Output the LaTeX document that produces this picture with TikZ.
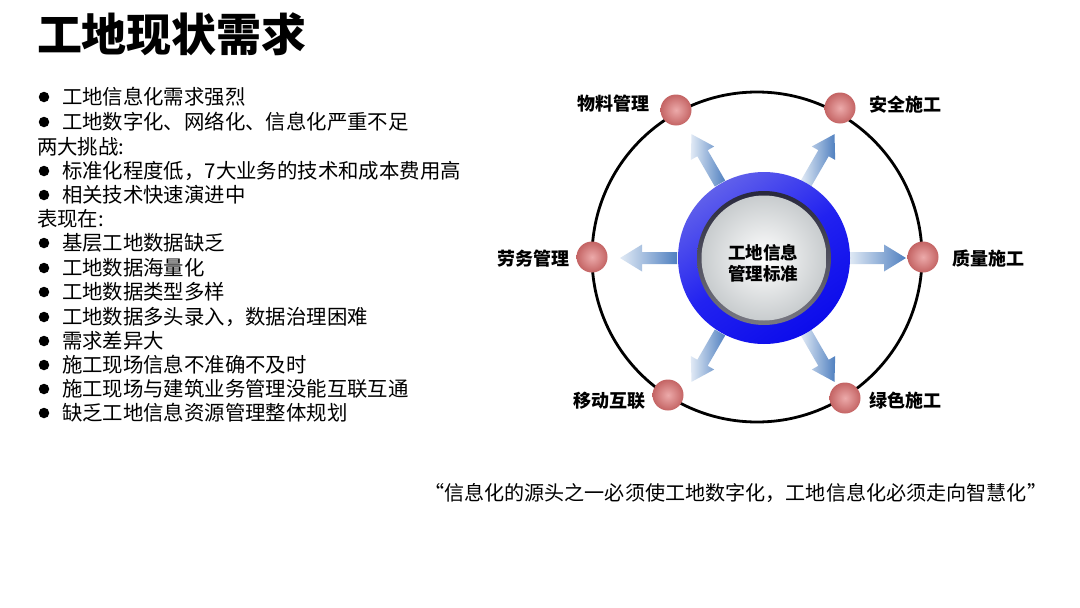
\documentclass[tikz,border=0pt]{standalone}
\usepackage{fontspec}
\newfontfamily\cjk{Noto Sans CJK SC}
\tikzset{
  every node/.style={inner sep=0pt, outer sep=0pt, font=\cjk},
  listtxt/.style={anchor=west, font=\cjk\fontsize{20.4}{23}\selectfont},
  bul/.style={circle, fill=black, minimum size=10.5pt},
  lbl/.style={font=\cjk\bfseries\fontsize{18}{20}\selectfont},
  ball/.style={circle, minimum size=31pt, inner color={rgb,255:red,236;green,170;blue,170}, outer color={rgb,255:red,196;green,100;blue,100}},
  arrowshape/.style={left color={rgb,255:red,225;green,234;blue,245}, right color={rgb,255:red,80;green,128;blue,192}},
}
\begin{document}
\begin{tikzpicture}[x=1pt,y=-1pt]
\useasboundingbox (0,0) rectangle (1080,608);
\fill[white] (0,0) rectangle (1080,608);

% title
\node[anchor=west, font=\cjk\bfseries\fontsize{45}{48}\selectfont] (title) at (37,34) {工地现状需求};

% list
\foreach \y [count=\i] in {97,122,171,195,243,268,292,317,341,365,389,413}
  \node[bul] (b\i) at (44,\y) {};
\node[listtxt] (t1) at (62,97) {工地信息化需求强烈};
\node[listtxt] (t2) at (62,122) {工地数字化、网络化、信息化严重不足};
\node[listtxt] (h1) at (37,147) {两大挑战:};
\node[listtxt] (t3) at (62,171) {标准化程度低，7大业务的技术和成本费用高};
\node[listtxt] (t4) at (62,195) {相关技术快速演进中};
\node[listtxt] (h2) at (37,219) {表现在:};
\node[listtxt] (t5) at (62,243) {基层工地数据缺乏};
\node[listtxt] (t6) at (62,268) {工地数据海量化};
\node[listtxt] (t7) at (62,292) {工地数据类型多样};
\node[listtxt] (t8) at (62,317) {工地数据多头录入，数据治理困难};
\node[listtxt] (t9) at (62,341) {需求差异大};
\node[listtxt] (t10) at (62,365) {施工现场信息不准确不及时};
\node[listtxt] (t11) at (62,389) {施工现场与建筑业务管理没能互联互通};
\node[listtxt] (t12) at (62,413) {缺乏工地信息资源管理整体规划};

% big circle
\coordinate (O) at (757,257);
\draw[line width=2.8pt] (O) circle[radius=165];

% arrows
\begin{scope}[shift={(763,258)}]
\foreach \a in {0,60,120,180,240,300}{
  \begin{scope}[rotate=\a]
    \shade[arrowshape] (86,-6) -- (121,-6) -- (121,-13.5) -- (143,0) -- (121,13.5) -- (121,6) -- (86,6) -- cycle;
  \end{scope}
}
\end{scope}

% balls
\node[ball] (wl) at (676,110) {};
\node[ball] (aq) at (840,108) {};
\node[ball] (lw) at (592,257) {};
\node[ball] (zl) at (923,257) {};
\node[ball] (yd) at (668,395) {};
\node[ball] (ls) at (845,398) {};

% labels
\node[lbl, anchor=east] (lwl) at (649,104) {物料管理};
\node[lbl, anchor=west] (laq) at (869,105) {安全施工};
\node[lbl, anchor=east] (llw) at (569,259) {劳务管理};
\node[lbl, anchor=west] (lzl) at (952,259) {质量施工};
\node[lbl, anchor=east] (lyd) at (645,401) {移动互联};
\node[lbl, anchor=west] (lls) at (869,401) {绿色施工};

% centre disc
\coordinate (C) at (764,258);
\shade[top color={rgb,255:red,96;green,96;blue,235}, bottom color={rgb,255:red,12;green,12;blue,235}, middle color={rgb,255:red,34;green,34;blue,240}, shading angle=35] (C) circle[radius=86];
\shade[top color={rgb,255:red,40;green,40;blue,60}, bottom color={rgb,255:red,120;green,120;blue,130}] (C) circle[radius=67];
\shade[inner color=white, outer color={rgb,255:red,200;green,204;blue,206}] (C) circle[radius=62.5];
\node[align=center, font=\cjk\bfseries\fontsize{17.5}{21}\selectfont] (ctr) at (763,263) {工地信息\\管理标准};

% quote
\node[anchor=west, font=\cjk\fontsize{20.1}{22}\selectfont] (quote) at (424,493) {“信息化的源头之一必须使工地数字化，工地信息化必须走向智慧化”};
\end{tikzpicture}
\end{document}
